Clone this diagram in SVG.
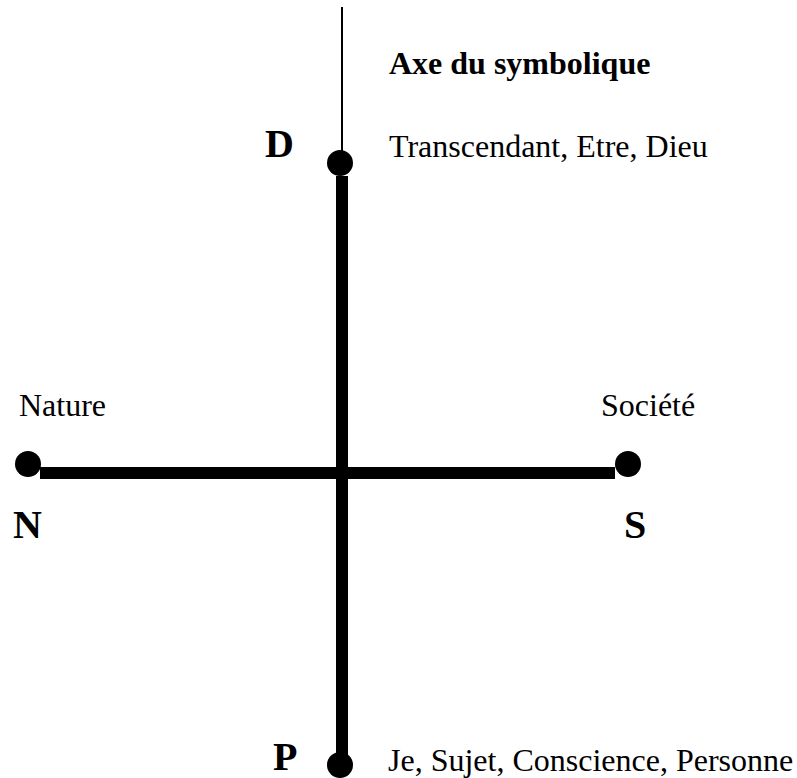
<svg xmlns="http://www.w3.org/2000/svg" width="797" height="778" viewBox="0 0 797 778">
  <style>
    .lbl { font-family: "Liberation Serif", "Times New Roman", serif; font-size: 32px; fill: #000; }
    .bold { font-weight: bold; }
    .big { font-family: "Liberation Serif", "Times New Roman", serif; font-size: 40px; font-weight: bold; fill: #000; }
    .dot { fill: #000; }
    .thick { stroke: #000; stroke-width: 12; fill: none; }
    .thin { stroke: #000; stroke-width: 2; fill: none; }
  </style>
  <rect width="797" height="778" fill="#fff"/>
  <g id="connectors">
    <line class="thin" x1="342" y1="7" x2="342" y2="160"/>
    <line class="thick" x1="342" y1="176" x2="342" y2="760"/>
    <line class="thick" x1="40" y1="473" x2="615" y2="473"/>
  </g>
  <g id="axis-title">
    <text class="lbl bold" x="389" y="74">Axe du symbolique</text>
  </g>
  <g id="node-D">
    <circle class="dot" cx="340" cy="163" r="13"/>
    <text class="big" x="265" y="157">D</text>
    <text class="lbl" x="389" y="157">Transcendant, Etre, Dieu</text>
  </g>
  <g id="node-N">
    <circle class="dot" cx="28" cy="464" r="13"/>
    <text class="lbl" x="19" y="416">Nature</text>
    <text class="big" x="13" y="538">N</text>
  </g>
  <g id="node-S">
    <circle class="dot" cx="628" cy="464" r="13"/>
    <text class="lbl" x="601" y="416">Société</text>
    <text class="big" x="624" y="538">S</text>
  </g>
  <g id="node-P">
    <circle class="dot" cx="340" cy="765" r="13"/>
    <text class="big" x="273" y="770">P</text>
    <text class="lbl" x="388" y="771">Je, Sujet, Conscience, Personne</text>
  </g>
</svg>
